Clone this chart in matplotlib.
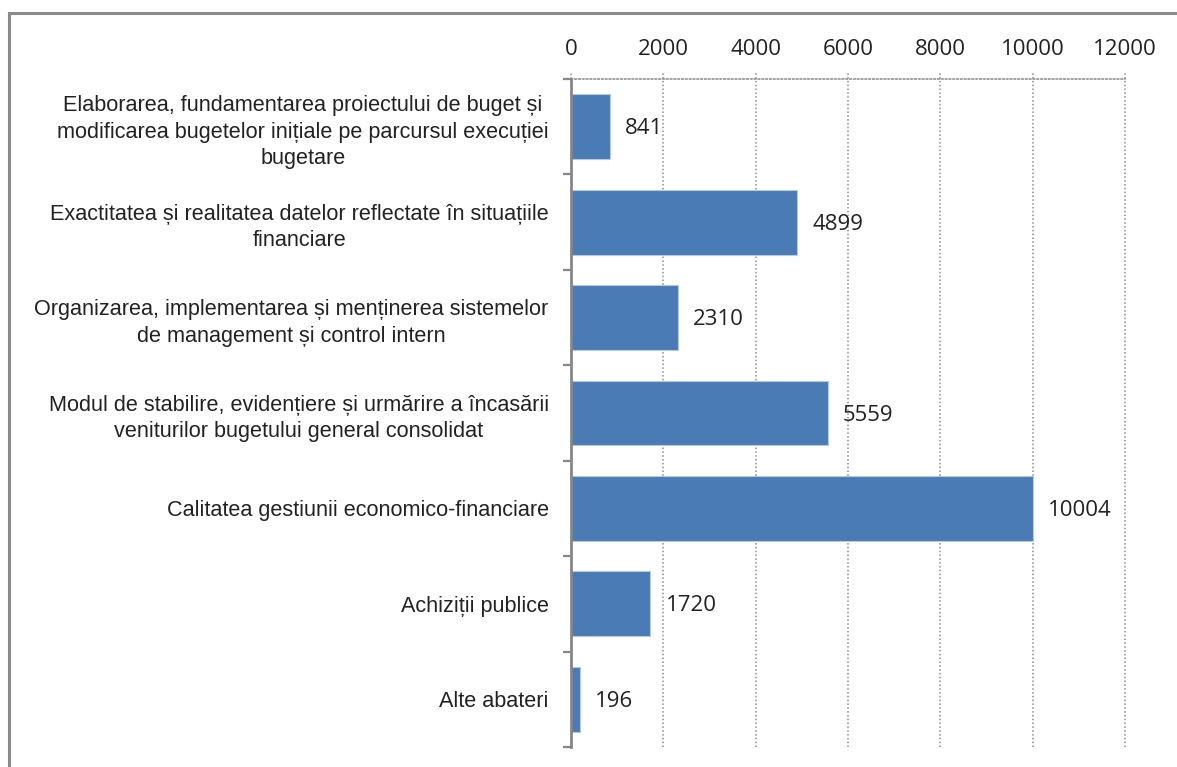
import matplotlib.pyplot as plt
import matplotlib.patches as patches
import matplotlib.transforms as mtransforms

categories = [
    "Elaborarea, fundamentarea proiectului de buget și\n"
    "modificarea bugetelor inițiale pe parcursul execuției\n"
    "bugetare",
    "Exactitatea și realitatea datelor reflectate în situațiile\nfinanciare",
    "Organizarea, implementarea și menținerea sistemelor\nde management și control intern",
    "Modul de stabilire, evidențiere și urmărire a încasării\nveniturilor bugetului general consolidat",
    "Calitatea gestiunii economico-financiare",
    "Achiziții publice",
    "Alte abateri",
]
values = [841, 4899, 2310, 5559, 10004, 1720, 196]
xticks = [0, 2000, 4000, 6000, 8000, 10000, 12000]

BAR = "#4a7bb5"
GRID = "#8c8c8c"
AXIS = "#868686"
NUM_FONT = "Open Sans"
LBL_FONT = "Liberation Sans"

fig = plt.figure(figsize=(11.77, 7.67), dpi=100)
ax = fig.add_axes([0.4851, 0.026, 0.4707, 0.871])

pos = list(range(len(values)))
ax.barh(pos, values, height=0.68, color=BAR, edgecolor="#b4c8e2", linewidth=0.8, zorder=3)

ax.set_xlim(0, 12000)
ax.set_ylim(len(values) - 0.5, -0.5)

# x axis on top, dotted grid running a little above the plot area
ax.xaxis.tick_top()
ax.set_xticks(xticks)
ax.set_xticklabels([str(t) for t in xticks], fontfamily=NUM_FONT, fontsize=16, color="#222222")
ax.tick_params(axis="x", length=0, pad=14)
trans = mtransforms.blended_transform_factory(ax.transData, ax.transAxes)
for t in xticks[1:]:
    ax.plot([t, t], [0, 1.011], transform=trans, color=GRID, lw=1.1,
            linestyle=(0, (1, 1.5)), clip_on=False, zorder=1)
ax.plot([0, 0], [1.0, 1.011], transform=trans, color=GRID, lw=1.1,
        linestyle=(0, (1, 1.5)), clip_on=False, zorder=1)

# category labels, ticks between categories
ax.set_yticks(pos)
ax.set_yticklabels(categories, fontfamily=LBL_FONT, fontsize=15.6, color="#222222",
                   ma="center", linespacing=1.36)
ax.tick_params(axis="y", which="major", length=0, pad=16)
ax.set_yticks([p - 0.5 for p in pos] + [len(values) - 0.5], minor=True)
ax.tick_params(axis="y", which="minor", length=6, width=1.6, color=AXIS, direction="out")

for side in ["right", "bottom"]:
    ax.spines[side].set_visible(False)
ax.spines["top"].set_color(GRID)
ax.spines["top"].set_linestyle((0, (1, 1.5)))
ax.spines["top"].set_linewidth(1.1)
ax.spines["left"].set_color(AXIS)
ax.spines["left"].set_linewidth(2)
ax.spines["left"].set_zorder(4)

# value labels to the right of each bar
for p, v in zip(pos, values):
    ax.annotate(str(v), xy=(v, p), xytext=(11, -1.5), textcoords="offset points",
                ha="left", va="center", fontfamily=NUM_FONT, fontsize=16, color="#222222")

# frame around the chart
fig.patches.append(patches.Rectangle((9 / 1177, -0.02), 1.1, 1 - 13 / 767 + 0.02,
                                     transform=fig.transFigure, fill=False,
                                     edgecolor="#8a8a8a", linewidth=2.2))

fig.savefig("out.png", dpi=100)
